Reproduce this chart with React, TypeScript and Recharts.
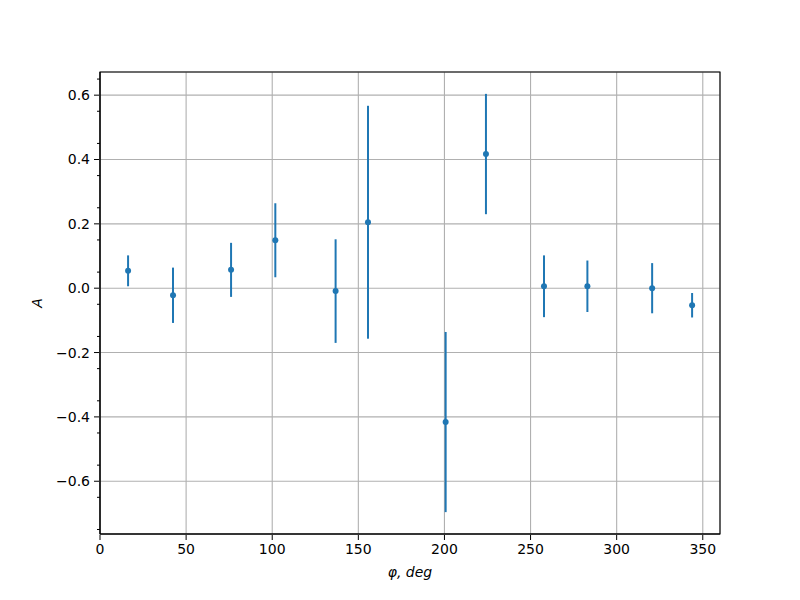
import React from "react";
import {
  ScatterChart,
  Scatter,
  XAxis,
  YAxis,
  CartesianGrid,
  ErrorBar,
  Label,
  ReferenceArea,
} from "recharts";

// angle (deg), amplitude A and its error
const phi = [16.3, 42.4, 76.1, 101.8, 136.8, 155.6, 200.7, 224.1, 257.8, 283.0, 320.6, 343.8];
const amp = [0.054, -0.022, 0.057, 0.149, -0.009, 0.205, -0.416, 0.417, 0.006, 0.006, 0.0, -0.053];
const ampErr = [0.048, 0.086, 0.084, 0.115, 0.161, 0.362, 0.28, 0.187, 0.096, 0.08, 0.078, 0.038];

const xTicks = [0, 50, 100, 150, 200, 250, 300, 350];
const xMinorTicks = [
  0, 10, 20, 30, 40, 50, 60, 70, 80, 90, 100, 110, 120, 130, 140, 150, 160, 170, 180,
  190, 200, 210, 220, 230, 240, 250, 260, 270, 280, 290, 300, 310, 320, 330, 340, 350, 360,
];
const yTicks = [-0.6, -0.4, -0.2, 0, 0.2, 0.4, 0.6];
const yMinorTicks = [
  -0.75, -0.7, -0.65, -0.6, -0.55, -0.5, -0.45, -0.4, -0.35, -0.3, -0.25, -0.2, -0.15,
  -0.1, -0.05, 0, 0.05, 0.1, 0.15, 0.2, 0.25, 0.3, 0.35, 0.4, 0.45, 0.5, 0.55, 0.6, 0.65,
];

const xDomain: [number, number] = [0, 360];
const yDomain: [number, number] = [-0.764, 0.672];

const BLUE = "#1f77b4";
const FONT = "DejaVu Sans";

const data = phi.map((x, i) => ({ x, y: amp[i], err: ampErr[i] }));

const fmtY = (v: number) => v.toFixed(1).replace("-", "\u2212");

const Dot = (props: any) => <circle cx={props.cx} cy={props.cy} r={3} fill={BLUE} />;

export default function App() {
  const tickStyle = { fill: "#000", fontSize: 14, fontFamily: FONT };
  return (
    <div style={{ position: "absolute", left: 0, top: 0, background: "#fff" }}>
      <ScatterChart
        width={800}
        height={600}
        margin={{ top: 72, right: 80, bottom: 0, left: 0 }}
      >
        <CartesianGrid xAxisId="main" yAxisId="main" stroke="#b0b0b0" strokeWidth={1.1} />
        {/* axes with id 0 are laid out next to the plot: they carry the minor ticks */}
        <XAxis
          type="number"
          domain={xDomain}
          ticks={xMinorTicks}
          allowDataOverflow
          height={1}
          tickSize={3}
          tick={() => <g />}
          tickLine={{ stroke: "#000" }}
          axisLine={{ stroke: "#000", strokeWidth: 1.1 }}
        />
        <XAxis
          xAxisId="main"
          dataKey="x"
          type="number"
          domain={xDomain}
          ticks={xTicks}
          allowDataOverflow
          height={65}
          tickSize={5}
          tickMargin={4}
          tick={tickStyle}
          tickLine={{ stroke: "#000" }}
          axisLine={false}
        >
          <Label
            value="φ, deg"
            position="insideBottom"
            offset={23}
            style={{ fill: "#000", fontSize: 14, fontFamily: FONT, fontStyle: "italic" }}
          />
        </XAxis>
        <YAxis
          type="number"
          domain={yDomain}
          ticks={yMinorTicks}
          allowDataOverflow
          width={1}
          tickSize={3}
          tick={() => <g />}
          tickLine={{ stroke: "#000" }}
          axisLine={{ stroke: "#000", strokeWidth: 1.1 }}
        />
        <YAxis
          yAxisId="main"
          dataKey="y"
          type="number"
          domain={yDomain}
          ticks={yTicks}
          allowDataOverflow
          width={99}
          tickSize={5}
          tickMargin={4}
          tick={tickStyle}
          tickFormatter={fmtY}
          tickLine={{ stroke: "#000" }}
          axisLine={false}
        >
          <Label
            value="A"
            angle={-90}
            position="insideLeft"
            offset={37}
            style={{ fill: "#000", fontSize: 14, fontFamily: FONT, fontStyle: "italic", textAnchor: "middle" }}
          />
        </YAxis>
        <ReferenceArea
          xAxisId="main"
          yAxisId="main"
          x1={xDomain[0]}
          x2={xDomain[1]}
          y1={yDomain[0]}
          y2={yDomain[1]}
          fill="none"
          stroke="#000"
          strokeWidth={1.1}
          ifOverflow="visible"
        />
        <Scatter
          xAxisId="main"
          yAxisId="main"
          data={data}
          fill={BLUE}
          shape={Dot}
          isAnimationActive={false}
        >
          <ErrorBar dataKey="err" direction="y" width={0} stroke={BLUE} strokeWidth={2} />
        </Scatter>
      </ScatterChart>
    </div>
  );
}
